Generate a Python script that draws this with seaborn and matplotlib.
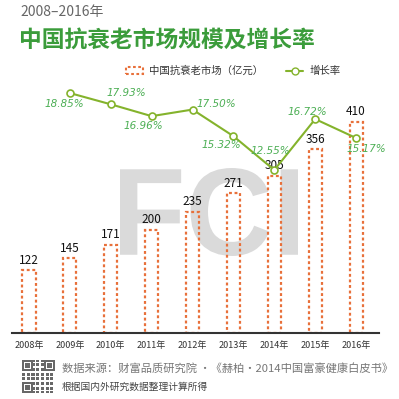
import numpy as np
import matplotlib
matplotlib.use("Agg")
import matplotlib.pyplot as plt
import seaborn as sns
from matplotlib.patches import Patch, PathPatch
from matplotlib.lines import Line2D
from matplotlib.textpath import TextPath
from matplotlib.font_manager import FontProperties
from matplotlib.transforms import Affine2D

# data
years = ["2008年", "2009年", "2010年", "2011年", "2012年", "2013年", "2014年", "2015年", "2016年"]
market = [122, 145, 171, 200, 235, 271, 305, 356, 410]
growth_years = [1, 2, 3, 4, 5, 6, 7, 8]  # 2009-2016
growth = [18.85, 17.93, 16.96, 17.50, 15.32, 12.55, 16.72, 15.17]
growth_labels = ["18.85%", "17.93%", "16.96%", "17.50%", "15.32%", "12.55%", "16.72%", "15.17%"]
# label offsets (points) relative to each growth point
growth_offsets = [(-4, -8), (11, 8), (-6, -7), (17, 4), (-9, -6), (-3, 14), (-6, 5), (7, -8)]

orange = "#e8703a"
lgreen = "#84b32c"
tgreen = "#4daf55"
title_green = "#3b9c3b"

sns.set_style("white")
plt.rcParams['font.family'] = ['Noto Sans CJK SC', 'DejaVu Sans']

fig = plt.figure(figsize=(3.99, 3.99), dpi=100)

# FCI watermark (behind everything)
fp = FontProperties(family="Liberation Sans", weight="bold")
tp = TextPath((0, 0), "FCI", size=100, prop=fp)
ext = tp.get_extents()
x0, y0, x1, y1 = 120 / 399, 1 - 256 / 399, 298 / 399, 1 - 168 / 399
tr = Affine2D().translate(-ext.x0, -ext.y0).scale((x1 - x0) / ext.width, (y1 - y0) / ext.height).translate(x0, y0)
fig.patches.append(PathPatch(tr.transform_path(tp), facecolor="#dadada", edgecolor="none",
                             transform=fig.transFigure, zorder=-5))

ax = fig.add_axes([12 / 399, 66 / 399, 367 / 399, 248 / 399])
ax.patch.set_alpha(0)
sns.barplot(x=years, y=market, ax=ax, fill=False, color=orange, width=0.32, linewidth=1.6)
for p in ax.patches:
    p.set_linestyle((0, (1.3, 1.2)))
    p.set_edgecolor(orange)
for i, v in enumerate(market):
    ax.annotate(str(v), (i, v), xytext=(0, 2.5), textcoords="offset points",
                ha="center", va="bottom", fontsize=8.5, color="#111")
ax.set_ylim(0, 481)
ax.set_xlim(-0.415, 8.56)
ax.set_yticks([])
ax.set_xlabel("")
ax.set_ylabel("")
for s in ["top", "left", "right"]:
    ax.spines[s].set_visible(False)
ax.spines["bottom"].set_color("#333333")
ax.spines["bottom"].set_linewidth(1.5)
ax.tick_params(axis="x", length=0, pad=6, labelsize=6.5, labelcolor="#333333")

ax2 = ax.twinx()
sns.lineplot(x=growth_years, y=growth, ax=ax2, color=lgreen, linewidth=1.5, marker="o",
             markersize=5, markerfacecolor="white", markeredgecolor=lgreen, markeredgewidth=1.2)
ax2.set_ylim(-0.79, 19.51)
ax2.set_yticks([])
ax2.set_ylabel("")
for s in ax2.spines.values():
    s.set_visible(False)
for x, v, lab, off in zip(growth_years, growth, growth_labels, growth_offsets):
    ax2.annotate(lab, (x, v), xytext=off, textcoords="offset points", ha="center", va="center",
                 fontsize=7.5, color=tgreen, style="italic", family="DejaVu Sans")

# legend
handles = [Patch(facecolor="none", edgecolor=orange, linestyle=(0, (1.3, 1.2)), linewidth=1.5),
           Line2D([0], [0], color=lgreen, linewidth=1.5, marker="o", markersize=5,
                  markerfacecolor="white", markeredgecolor=lgreen)]
fig.legend(handles, ["中国抗衰老市场（亿元）", "增长率"], loc="center", bbox_to_anchor=(0.585, 0.822),
           ncol=2, frameon=False, fontsize=7.5, handlelength=1.6, handleheight=0.7,
           columnspacing=2.2, handletextpad=0.6, labelcolor="#333333")

# titles
fig.text(20 / 399, 1 - 12 / 399, "2008–2016年", fontsize=10, color="#666666", va="center", ha="left")
fig.text(19 / 399, 1 - 40 / 399, "中国抗衰老市场规模及增长率", fontsize=16.4, fontweight="bold",
         color=title_green, va="center", ha="left")

# footer
qr = fig.add_axes([22 / 399, 6 / 399, 33 / 399, 33 / 399])
n = 21
qi, qj = np.meshgrid(np.arange(n), np.arange(n), indexing="ij")
grid = ((qi * qj + qi + 2 * qj) % 3 != 1).astype(float)
for (r, c) in [(0, 0), (0, n - 7), (n - 7, 0)]:
    grid[r:r + 7, c:c + 7] = 1
    grid[r + 1:r + 6, c + 1:c + 6] = 0
    grid[r + 2:r + 5, c + 2:c + 5] = 1
qr.imshow(grid, cmap="Greys", vmin=0, vmax=1.5, interpolation="nearest")
qr.axis("off")
fig.text(62 / 399, 1 - 368 / 399, "数据来源：财富品质研究院 •《赫柏•2014中国富豪健康白皮书》",
         fontsize=8.1, color="#777777", va="center", ha="left")
fig.text(62 / 399, 1 - 387 / 399, "根据国内外研究数据整理计算所得", fontsize=7,
         color="#444444", va="center", ha="left")

fig.savefig("out.png", dpi=100)
